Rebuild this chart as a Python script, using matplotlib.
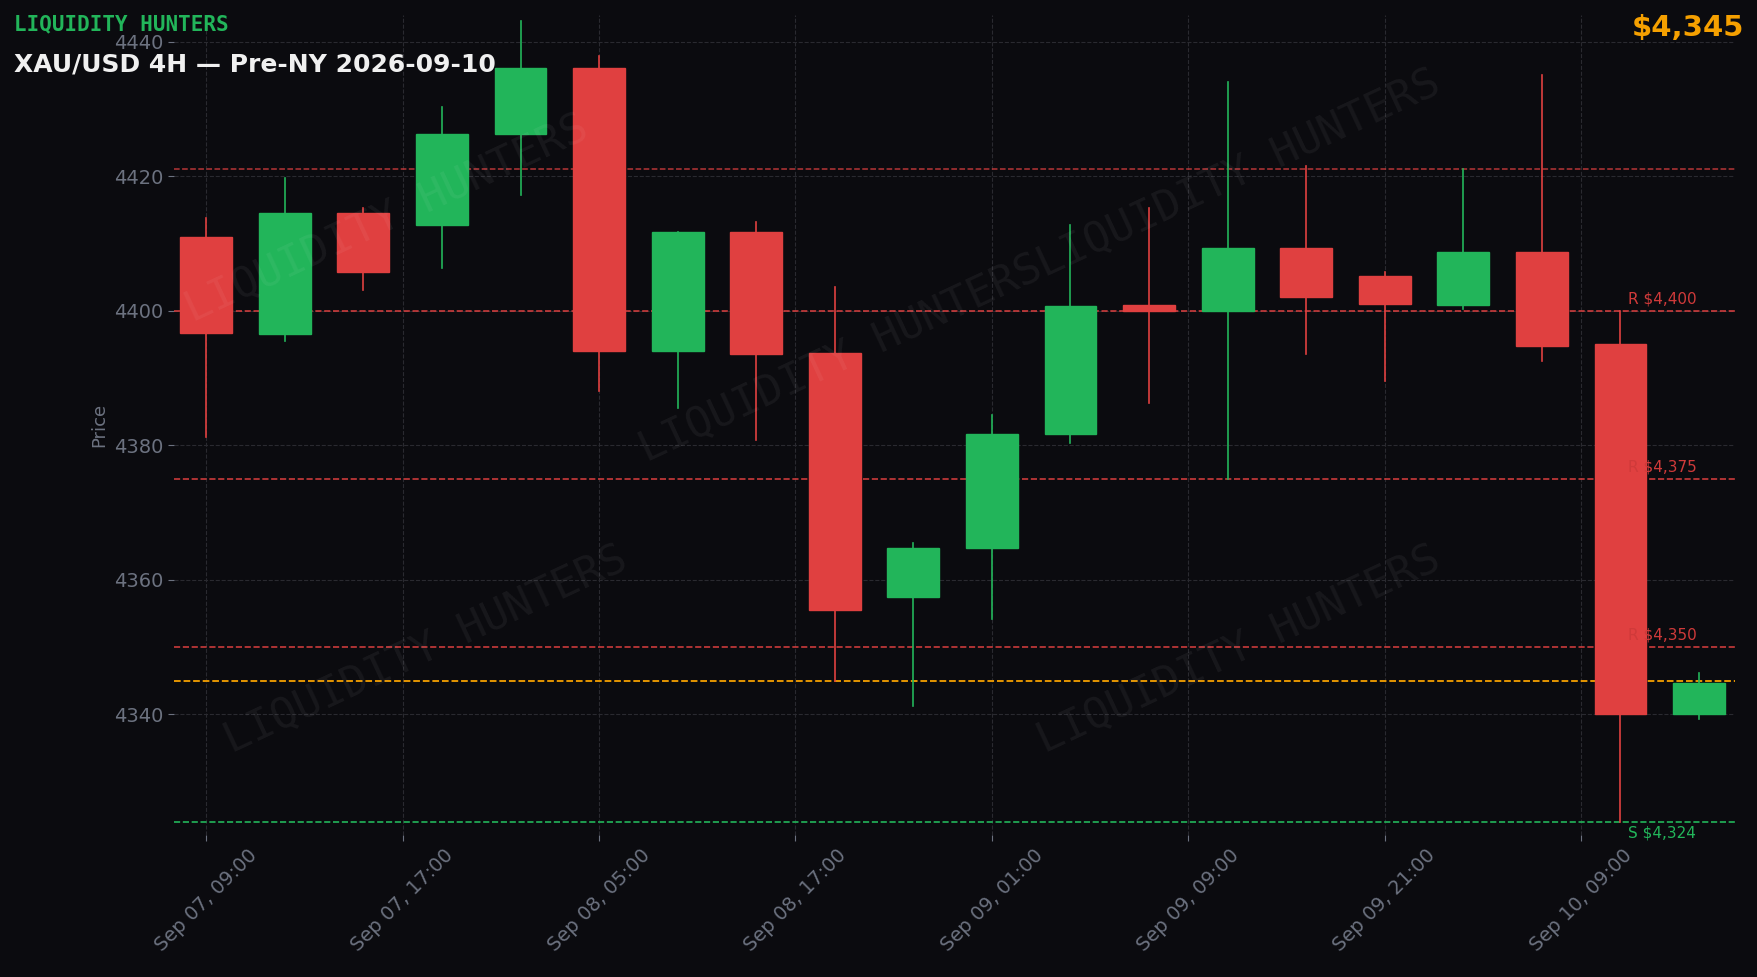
import matplotlib
matplotlib.use("Agg")
import matplotlib.pyplot as plt
from matplotlib.patches import Rectangle

opens  = [4411.0,4396.5,4414.5,4412.7,4426.2,4436.0,4394.0,4411.7,4393.7,4357.5,4364.7,4381.7,4400.8,4400.0,4409.3,4405.2,4400.8,4408.7,4395.0,4340.0]
closes = [4396.7,4414.5,4405.8,4426.2,4436.0,4394.0,4411.7,4393.5,4355.5,4364.7,4381.7,4400.7,4400.0,4409.3,4402.0,4401.0,4408.7,4394.8,4340.0,4344.7]
highs  = [4413.8,4419.7,4415.2,4430.2,4443.0,4437.8,4411.7,4413.2,4403.5,4365.5,4384.5,4412.8,4415.3,4434.0,4421.5,4405.8,4421.0,4435.0,4400.0,4346.2]
lows   = [4381.2,4395.5,4403.0,4406.3,4417.2,4388.0,4385.5,4380.7,4345.0,4341.2,4354.2,4380.3,4386.2,4375.0,4393.5,4389.5,4400.2,4392.5,4324.0,4339.3]
tick_pos = [0,2.5,5,7.5,10,12.5,15,17.5]
tick_labels = ["Sep 07, 09:00","Sep 07, 17:00","Sep 08, 05:00","Sep 08, 17:00","Sep 09, 01:00","Sep 09, 09:00","Sep 09, 21:00","Sep 10, 09:00"]
res_levels = [4400,4375,4350]
res_extra = 4421
support = 4324
current = 4345

BG="#0b0b0f"; G="#22b55a"; R="#e04040"
fig = plt.figure(figsize=(17.58,9.77), dpi=100, facecolor=BG)
ax = fig.add_axes([0.099,0.145,0.888,0.84], facecolor=BG)
for i,(o,c,h,l) in enumerate(zip(opens,closes,highs,lows)):
    col = G if c>=o else R
    ax.plot([i,i],[l,h],color=col,lw=1.2,zorder=3)
    b=min(o,c); hgt=max(abs(c-o),0.6)
    ax.add_patch(Rectangle((i-0.33,b),0.66,hgt,facecolor=col,edgecolor=col,lw=1,zorder=4))
for lv in res_levels:
    ax.axhline(lv,color=R,ls="--",lw=1.2,alpha=0.9,zorder=2)
    ax.text(18.1,lv+0.6,f"R ${lv:,}",color="#d03a3a",fontsize=11,va="bottom",zorder=5)
ax.axhline(res_extra,color=R,ls="--",lw=1.1,alpha=0.8,zorder=2)
ax.axhline(current,color="#f5a000",ls="--",lw=1.3,zorder=2)
ax.axhline(support,color=G,ls="--",lw=1.2,zorder=2)
ax.text(18.1,support-0.6,f"S ${support:,}",color=G,fontsize=11,va="top",zorder=5)
ax.set_xlim(-0.41,19.46); ax.set_ylim(4322,4444)
ax.set_xticks(tick_pos); ax.set_xticklabels(tick_labels,rotation=45,ha="center")
ax.set_yticks([4340,4360,4380,4400,4420,4440])
ax.tick_params(colors="#6c7280",labelsize=14,length=4)
ax.grid(True,color="#2a2a30",ls="--",lw=0.8)
for s in ax.spines.values(): s.set_visible(False)
ax.set_ylabel("Price",color="#6c7280",fontsize=13)
for (px,py) in [(345,195),(750,320),(1105,155),(380,580),(1105,580)]:
    fig.text(px/1568,1-py/871,"LIQUIDITY HUNTERS",rotation=25,color="white",alpha=0.055,fontsize=31,family="DejaVu Sans Mono",ha="center",va="center")
fig.text(0.008,0.975,"LIQUIDITY HUNTERS",color=G,fontsize=15,fontweight="bold",family="DejaVu Sans Mono",va="center")
fig.text(0.008,0.934,"XAU/USD 4H — Pre-NY 2026-09-10",color="#f0f0f0",fontsize=18,fontweight="bold",va="center")
fig.text(0.992,0.971,"$4,345",color="#f5a000",fontsize=21,fontweight="bold",ha="right",va="center")
fig.savefig("out.png",facecolor=BG)
